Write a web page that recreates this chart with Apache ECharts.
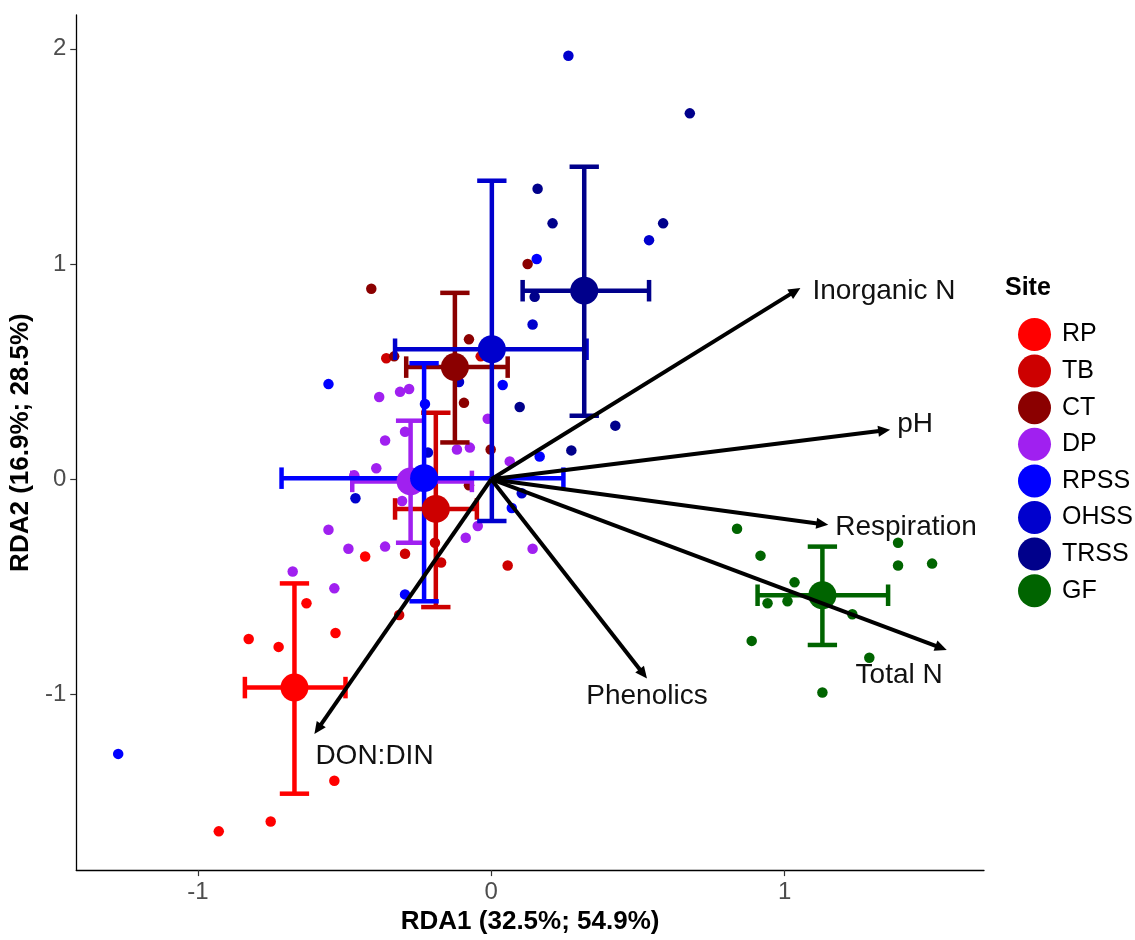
<!DOCTYPE html>
<html>
<head>
<meta charset="utf-8">
<script src="https://cdn.jsdelivr.net/npm/echarts@6/dist/echarts.min.js"></script>
<style>
html,body{margin:0;padding:0;background:#fff;}
#chart{width:1135px;height:940px;}
</style>
</head>
<body>
<div id="chart"></div>
<script>
// ---------- DATA ----------
const sites = ['RP','TB','CT','DP','RPSS','OHSS','TRSS','GF'];

const pointsRP = [[-0.827,-0.742],[-0.725,-0.779],[-0.630,-0.576],[-0.531,-0.714],[-0.535,-1.401],[-0.752,-1.590],[-0.929,-1.636],[-0.430,-0.359]];
const pointsTB = [[-0.358,0.562],[-0.036,0.571],[-0.192,-0.295],[-0.171,-0.387],[-0.294,-0.346],[-0.314,-0.631],[0.056,-0.401]];
const pointsCT = [[-0.409,0.885],[-0.331,0.571],[-0.076,0.650],[-0.093,0.355],[-0.002,0.138],[-0.076,-0.028],[0.124,1.000]];
const pointsDP = [[-0.382,0.382],[-0.311,0.406],[-0.280,0.419],[-0.362,0.180],[-0.392,0.051],[-0.467,0.018],[-0.304,-0.101],[-0.555,-0.235],[-0.487,-0.323],[-0.362,-0.313],[-0.677,-0.429],[-0.535,-0.507],[-0.117,0.138],[-0.073,0.147],[-0.012,0.281],[0.063,0.083],[-0.046,-0.217],[-0.087,-0.272],[0.141,-0.323],[-0.294,0.221]];
const pointsRPSS = [[-1.272,-1.276],[-0.555,0.442],[-0.226,0.350],[-0.294,-0.535],[0.165,0.106],[0.070,-0.134],[0.039,0.438],[0.155,1.023]];
const pointsOHSS = [[0.263,1.968],[0.538,1.111],[0.141,0.719],[-0.110,0.452],[0.104,-0.065],[-0.216,0.124],[-0.463,-0.088]];
const pointsTRSS = [[0.677,1.700],[0.158,1.350],[0.209,1.189],[0.586,1.189],[0.148,0.848],[0.097,0.336],[0.423,0.249],[0.273,0.134]];
const pointsGF = [[0.838,-0.230],[0.918,-0.355],[1.034,-0.479],[1.010,-0.567],[0.942,-0.576],[0.888,-0.751],[1.129,-0.991],[1.231,-0.627],[1.289,-0.829],[1.387,-0.295],[1.387,-0.401],[1.503,-0.392]];

// centroids and error bar limits, in site order
const centroidX = [-0.671,-0.189,-0.124,-0.275,-0.229,0.002,0.317,1.129];
const centroidY = [-0.968,-0.138,0.521,-0.010,0.005,0.604,0.876,-0.539];
const xLow  = [-0.840,-0.328,-0.290,-0.474,-0.715,-0.328,0.107,0.908];
const xHigh = [-0.497,-0.049,0.056,-0.066,0.246,0.325,0.538,1.353];
const yLow  = [-1.461,-0.594,0.171,-0.295,-0.567,-0.194,0.295,-0.770];
const yHigh = [-0.484,0.309,0.866,0.272,0.539,1.387,1.452,-0.313];

// environmental vectors
const envNames = ['Inorganic N','pH','Respiration','Total N','Phenolics','DON:DIN'];
const envX = [1.054,1.360,1.149,1.553,0.531,-0.603];
const envY = [0.889,0.230,-0.212,-0.793,-0.926,-1.184];

const xTicks = [-1,0,1];
const yTicks = [-1,0,1,2];
const xTitle = 'RDA1 (32.5%; 54.9%)';
const yTitle = 'RDA2 (16.9%; 28.5%)';
const legendTitle = 'Site';

// ---------- STYLE ----------
const siteColors = {RP:'#FF0000',TB:'#CD0000',CT:'#8B0000',DP:'#A020F0',RPSS:'#0000FF',OHSS:'#0000CD',TRSS:'#00008B',GF:'#006400'};
const sitePoints = {RP:pointsRP,TB:pointsTB,CT:pointsCT,DP:pointsDP,RPSS:pointsRPSS,OHSS:pointsOHSS,TRSS:pointsTRSS,GF:pointsGF};
const labelStyle = {
  'Inorganic N':{dx:12,dy:3,align:'left'},
  'pH':{dx:7,dy:-5,align:'left'},
  'Respiration':{dx:7,dy:2,align:'left'},
  'Total N':{dx:-4,dy:25,align:'right'},
  'Phenolics':{dx:0,dy:18,align:'center'},
  'DON:DIN':{dx:1,dy:22,align:'left'}
};
const FONT = '"Liberation Sans", Arial, sans-serif';

const chart = echarts.init(document.getElementById('chart'), null, {renderer:'canvas'});

const series = [];
sites.forEach(s => {
  series.push({
    name: s, type: 'scatter', z: 2,
    data: sitePoints[s], symbol: 'circle', symbolSize: 10.5,
    itemStyle: {color: siteColors[s], opacity: 1},
    emphasis: {disabled: true}
  });
});

const ebData = sites.map((s,i) => [centroidX[i], centroidY[i], xLow[i], xHigh[i], yLow[i], yHigh[i], i]);
series.push({
  type: 'custom', z: 3, silent: true,
  data: ebData,
  encode: {x:[0,2,3], y:[1,4,5]},
  renderItem: function(params, api){
    const cx = api.value(0), cy = api.value(1);
    const col = siteColors[sites[api.value(6)]];
    const c = api.coord([cx,cy]);
    const xl = api.coord([api.value(2),cy]), xh = api.coord([api.value(3),cy]);
    const yl = api.coord([cx,api.value(4)]), yh = api.coord([cx,api.value(5)]);
    const capW = api.coord([cx+0.05,cy])[0]-c[0];
    const capH = c[1]-api.coord([cx,cy+0.05])[1];
    const st = {stroke: col, lineWidth: 4.5};
    const L = (x1,y1,x2,y2) => ({type:'line', shape:{x1,y1,x2,y2}, style:st});
    return {type:'group', children:[
      L(c[0],yl[1],c[0],yh[1]),
      L(c[0]-capW,yl[1],c[0]+capW,yl[1]),
      L(c[0]-capW,yh[1],c[0]+capW,yh[1]),
      L(xl[0],c[1],xh[0],c[1]),
      L(xl[0],c[1]-capH,xl[0],c[1]+capH),
      L(xh[0],c[1]-capH,xh[0],c[1]+capH)
    ]};
  }
});

series.push({
  type: 'scatter', z: 4, silent: true, symbolSize: 28,
  emphasis: {disabled: true},
  data: sites.map((s,i) => ({value:[centroidX[i],centroidY[i]], itemStyle:{color:siteColors[s], opacity:1}}))
});

series.push({
  type: 'custom', z: 5, silent: true,
  data: envNames.map((n,i) => [envX[i], envY[i], i]),
  encode: {x:0, y:1},
  renderItem: function(params, api){
    const o = api.coord([0,0]);
    const t = api.coord([api.value(0), api.value(1)]);
    const name = envNames[api.value(2)];
    const lab = labelStyle[name];
    const dx = t[0]-o[0], dy = t[1]-o[1];
    const len = Math.hypot(dx,dy), ux = dx/len, uy = dy/len;
    const hl = 12, hw = 5.5;
    const b = [t[0]-ux*hl, t[1]-uy*hl];
    return {type:'group', children:[
      {type:'line', shape:{x1:o[0],y1:o[1],x2:b[0]+ux*3,y2:b[1]+uy*3}, style:{stroke:'#000', lineWidth:4}},
      {type:'polygon', shape:{points:[[t[0],t[1]],[b[0]-uy*hw,b[1]+ux*hw],[b[0]+uy*hw,b[1]-ux*hw]]}, style:{fill:'#000'}},
      {type:'text', x:t[0]+lab.dx, y:t[1]+lab.dy, style:{text:name, fill:'#111', fontSize:28, fontFamily:FONT, align:lab.align, verticalAlign:'middle'}}
    ]};
  }
});

const option = {
  animation: false,
  backgroundColor: '#fff',
  grid: {left:73, right:151, top:15, bottom:63, containLabel:false},
  xAxis: {
    type:'value', min:-1.415, max:1.68,
    splitLine:{show:false},
    axisLine:{show:true, onZero:false, lineStyle:{color:'#000', width:1.3}},
    axisTick:{show:true, customValues:xTicks, length:6, lineStyle:{color:'#333', width:1.2}},
    axisLabel:{customValues:xTicks, color:'#4D4D4D', fontSize:24, fontFamily:FONT, margin:10},
    name: xTitle, nameLocation:'middle', nameGap:35,
    nameTextStyle:{color:'#000', fontSize:26, fontWeight:'bold', fontFamily:FONT}
  },
  yAxis: {
    type:'value', min:-1.816, max:2.157,
    splitLine:{show:false},
    axisLine:{show:true, onZero:false, lineStyle:{color:'#000', width:1.3}},
    axisTick:{show:true, customValues:yTicks, length:6, lineStyle:{color:'#333', width:1.2}},
    axisLabel:{customValues:yTicks, color:'#4D4D4D', fontSize:24, fontFamily:FONT, margin:10},
    name: yTitle, nameLocation:'middle', nameGap:30, nameRotate:90,
    nameTextStyle:{color:'#000', fontSize:26, fontWeight:'bold', fontFamily:FONT}
  },
  legend: {
    data: sites.map(s => ({name:s, icon:'circle'})),
    orient:'vertical', left:1013, top:313,
    itemWidth:33, itemHeight:33, itemGap:3.6,
    textStyle:{color:'#000', fontSize:25, fontFamily:FONT, padding:[0,0,0,6]},
    selectedMode:false
  },
  graphic: [{
    type:'text', left:1005, top:276,
    style:{text:legendTitle, fill:'#000', fontSize:25, fontWeight:'bold', fontFamily:FONT}
  }],
  series: series
};
chart.setOption(option);
</script>
</body>
</html>
